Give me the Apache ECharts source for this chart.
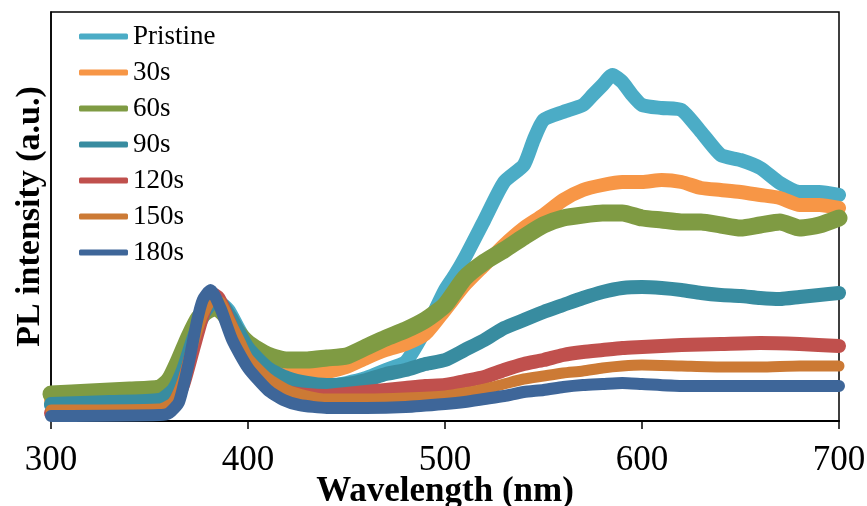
<!DOCTYPE html>
<html>
<head>
<meta charset="utf-8">
<script src="https://cdn.jsdelivr.net/npm/echarts@6/dist/echarts.min.js"></script>
<style>
  html, body { margin: 0; padding: 0; background: #fff; }
  #chart { width: 867px; height: 506px; }
</style>
</head>
<body>
<div id="chart"></div>
<script>
// PL spectra, [wavelength (nm), intensity (a.u.)]
const seriesNames = ['Pristine', '30s', '60s', '90s', '120s', '150s', '180s']
const xTicks = [300, 400, 500, 600, 700]

const pristine = [
  [300, 16], [350, 19], [360, 23], [365, 36], [370, 66], [375, 96], [380, 113], [385, 119],
  [390, 111], [395, 93], [400, 76], [410, 51], [420, 38], [430, 35], [440, 35], [450, 38],
  [460, 43], [470, 51], [480, 59], [490, 91], [495, 111], [500, 131], [505, 146], [510, 163],
  [520, 201], [530, 239], [540, 256], [545, 281], [550, 301], [560, 309], [570, 316], [575, 326],
  [580, 336], [585, 346], [590, 339], [595, 326], [600, 316], [610, 313], [620, 311], [630, 289],
  [640, 266], [650, 261], [660, 253], [670, 238], [680, 229], [690, 229], [700, 226]
]
const s30 = [
  [300, 21], [355, 24], [362, 31], [367, 51], [372, 81], [377, 106], [382, 116], [387, 113],
  [392, 99], [400, 71], [410, 56], [420, 49], [430, 47], [440, 49], [450, 54], [460, 63],
  [470, 71], [480, 77], [490, 87], [500, 111], [510, 136], [520, 156], [530, 176], [540, 193],
  [550, 206], [560, 221], [570, 231], [580, 236], [590, 239], [600, 239], [610, 241], [620, 239],
  [630, 233], [640, 231], [650, 229], [660, 226], [670, 223], [680, 216], [690, 216], [700, 213]
]
const s60 = [
  [300, 27], [320, 29], [340, 31], [355, 33], [360, 41], [365, 61], [370, 84], [375, 103],
  [380, 111], [384, 113], [388, 107], [393, 93], [400, 78], [410, 66], [420, 61], [430, 61],
  [440, 63], [450, 65], [460, 74], [470, 83], [480, 91], [490, 101], [500, 116], [510, 143],
  [520, 159], [530, 171], [540, 184], [550, 196], [560, 203], [570, 206], [580, 208], [590, 208],
  [600, 203], [610, 201], [620, 199], [630, 199], [640, 196], [650, 193], [660, 196], [670, 199],
  [680, 193], [690, 196], [700, 203]
]
const s90 = [
  [300, 17], [330, 19], [355, 21], [362, 31], [367, 51], [372, 81], [377, 106], [382, 118],
  [387, 116], [392, 101], [400, 73], [410, 53], [420, 43], [430, 38], [440, 36], [450, 37],
  [460, 41], [470, 47], [480, 51], [490, 57], [500, 61], [510, 71], [520, 81], [530, 93],
  [540, 101], [550, 109], [560, 116], [570, 123], [580, 129], [590, 133], [600, 134], [610, 133],
  [620, 131], [630, 128], [640, 126], [650, 125], [660, 123], [670, 122], [680, 124], [690, 126],
  [700, 128]
]
const s120 = [
  [300, 8], [355, 9], [362, 16], [367, 36], [372, 71], [377, 106], [381, 128], [385, 123],
  [390, 101], [395, 76], [400, 56], [410, 36], [420, 29], [430, 26], [440, 25], [450, 27],
  [460, 29], [470, 31], [480, 33], [490, 35], [500, 36], [510, 40], [520, 44], [530, 51],
  [540, 57], [550, 61], [560, 66], [570, 69], [580, 71], [590, 73], [600, 74], [620, 76],
  [640, 77], [660, 78], [680, 77], [700, 75]
]
const s150 = [
  [300, 11], [355, 12], [362, 19], [367, 41], [372, 76], [377, 106], [382, 121], [386, 119],
  [391, 99], [396, 79], [400, 63], [410, 43], [420, 31], [430, 25], [440, 22], [460, 22],
  [480, 23], [500, 25], [510, 28], [520, 32], [530, 37], [540, 42], [550, 45], [560, 48],
  [570, 50], [580, 53], [590, 55], [600, 56], [620, 55], [640, 54], [660, 54], [680, 55],
  [700, 55]
]
const s180 = [
  [300, 5], [355, 6], [360, 8], [365, 19], [370, 59], [374, 99], [377, 121], [381, 131],
  [386, 113], [392, 81], [400, 53], [410, 31], [418, 21], [426, 16], [440, 13], [460, 13],
  [480, 14], [500, 17], [510, 19], [520, 22], [530, 25], [540, 29], [550, 31], [560, 34],
  [570, 36], [580, 37], [590, 38], [600, 37], [620, 35], [640, 35], [660, 35], [680, 35],
  [700, 35]
]

const allData = [pristine, s30, s60, s90, s120, s150, s180]
const colors = ['#4BACC6', '#F79646', '#7F9B43', '#388CA0', '#C0504D', '#CC7A35', '#3E6699']
// noisy traces -> thicker strokes for the wider ones
const widths = [14, 14, 17, 14, 14, 11, 12]
const serif = 'Liberation Serif, Times New Roman, serif'

const myChart = echarts.init(document.getElementById('chart'))

const series = seriesNames.map((name, i) => ({
  name: name,
  type: 'line',
  data: allData[i],
  showSymbol: false,
  smooth: 0.2,
  lineStyle: {
    color: colors[i],
    width: widths[i],
    cap: 'round',
    join: 'round'
  },
  itemStyle: { color: colors[i] },
  animation: false
}))

const option = {
  backgroundColor: '#fff',
  color: colors,
  grid: {
    left: 51,
    right: 28,
    top: 12,
    bottom: 85,
    outerBoundsMode: 'none',
    show: true,
    borderColor: '#000',
    borderWidth: 1.5
  },
  legend: {
    orient: 'vertical',
    left: 79,
    top: 23,
    padding: 0,
    itemGap: 9,
    itemWidth: 49,
    itemHeight: 6,
    icon: 'roundRect',
    textStyle: {
      fontFamily: serif,
      fontSize: 27,
      lineHeight: 27,
      color: '#000'
    },
    data: seriesNames
  },
  xAxis: {
    type: 'value',
    min: 300,
    max: 700,
    interval: 100,
    name: 'Wavelength (nm)',
    nameLocation: 'middle',
    nameGap: 71,
    nameMoveOverlap: false,
    nameTextStyle: {
      fontFamily: serif,
      fontSize: 35,
      fontWeight: 'bold',
      color: '#000',
      verticalAlign: 'middle'
    },
    axisLine: { lineStyle: { color: '#000', width: 2 } },
    axisTick: { show: true, length: 8, inside: false, lineStyle: { color: '#000', width: 1.5 } },
    axisLabel: {
      fontFamily: serif,
      fontSize: 35,
      color: '#000',
      margin: 40,
      verticalAlign: 'middle',
      formatter: v => (xTicks.indexOf(v) >= 0 ? String(v) : '')
    },
    splitLine: { show: false }
  },
  yAxis: {
    type: 'value',
    min: 0,
    max: 409,
    name: 'PL intensity (a.u.)',
    nameLocation: 'middle',
    nameGap: 4,
    nameMoveOverlap: false,
    nameTextStyle: {
      fontFamily: serif,
      fontSize: 34,
      fontWeight: 'bold',
      color: '#000'
    },
    axisLine: { show: true, lineStyle: { color: '#000', width: 1.5 } },
    axisTick: { show: false },
    axisLabel: { show: false },
    splitLine: { show: false }
  },
  series: series
}

myChart.setOption(option)
</script>
</body>
</html>
